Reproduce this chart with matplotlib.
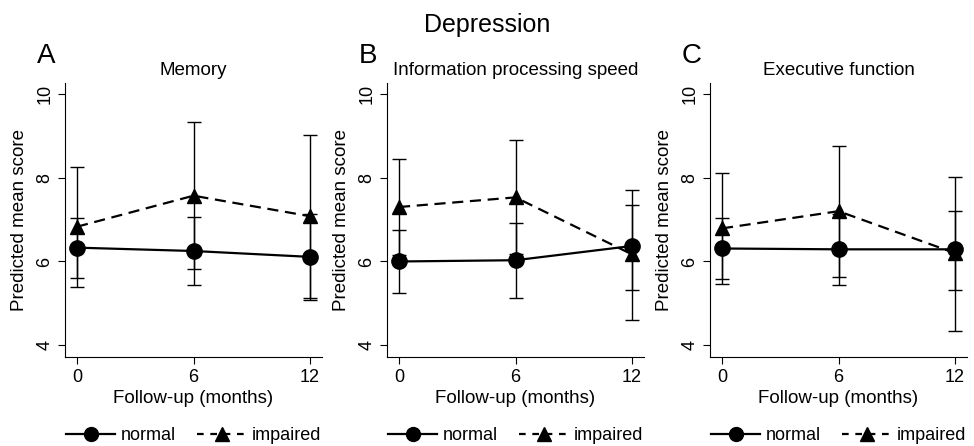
import matplotlib
matplotlib.use('Agg')
import matplotlib.pyplot as plt
from matplotlib.lines import Line2D

plt.rcParams['font.family'] = ['Liberation Sans', 'DejaVu Sans']

months = [0, 6, 12]
titles = ['Memory', 'Information processing speed', 'Executive function']
letters = ['A', 'B', 'C']

# predicted mean score and 95% CI, per domain
normal_mean = [[6.33, 6.25, 6.11], [6.00, 6.03, 6.37], [6.31, 6.29, 6.29]]
normal_lo = [[5.61, 5.43, 5.09], [5.24, 5.12, 5.33], [5.57, 5.45, 5.33]]
normal_hi = [[7.04, 7.07, 7.13], [6.76, 6.91, 7.35], [7.04, 7.13, 7.20]]

impaired_mean = [[6.83, 7.57, 7.08], [7.30, 7.53, 6.17], [6.79, 7.20, 6.20]]
impaired_lo = [[5.39, 5.81, 5.13], [6.15, 6.17, 4.60], [5.47, 5.63, 4.34]]
impaired_hi = [[8.25, 9.34, 9.02], [8.45, 8.89, 7.71], [8.11, 8.76, 8.02]]

fig = plt.figure(figsize=(9.74, 4.46), dpi=100)
lefts = [65, 387, 710]


def dibujar_panel(ax, i):
    for mean, lo, hi in [(impaired_mean[i], impaired_lo[i], impaired_hi[i]),
                         (normal_mean[i], normal_lo[i], normal_hi[i])]:
        err = [[m - l for m, l in zip(mean, lo)], [h - m for m, h in zip(mean, hi)]]
        ax.errorbar(months, mean, yerr=err, fmt='none', ecolor='black',
                    elinewidth=1.0, capsize=5, capthick=1.0, zorder=2)
    ax.plot(months, impaired_mean[i], color='black', lw=1.6, ls=(0, (5, 3)),
            marker='^', ms=10, zorder=3)
    ax.plot(months, normal_mean[i], color='black', lw=1.6, marker='o', ms=11, zorder=4)

    ax.set_xlim(-0.62, 12.62)
    ax.set_ylim(3.72, 10.26)
    ax.set_xticks(months)
    ax.set_yticks([4, 6, 8, 10])
    ax.spines['top'].set_visible(False)
    ax.spines['right'].set_visible(False)
    ax.tick_params(labelsize=13, length=5, width=0.8)
    for lab in ax.get_yticklabels():
        lab.set_rotation(90)
        lab.set_va('center')
    ax.set_xlabel('Follow-up (months)', fontsize=13.5, labelpad=3)
    ax.set_ylabel('Predicted mean score', fontsize=13.5, labelpad=6)
    ax.set_title(titles[i], fontsize=13.5, pad=6)

    handles = [Line2D([], [], color='black', lw=1.6, marker='o', ms=10),
               Line2D([], [], color='black', lw=1.6, ls=(0, (3, 3)), marker='^', ms=10)]
    centro_x = (lefts[i] + 128.5) / 974
    ax.legend(handles, ['normal', 'impaired'], loc='center',
              bbox_to_anchor=(centro_x, 1 - 436 / 446), bbox_transform=fig.transFigure,
              ncol=2, frameon=False, fontsize=13, borderpad=0.1,
              handlelength=2.7, handletextpad=0.3, columnspacing=1.2)


for i in range(3):
    ax = fig.add_axes([lefts[i] / 974, 89 / 446, 257 / 974, 274 / 446])
    dibujar_panel(ax, i)
    fig.text((lefts[i] - 28) / 974, 1 - 63 / 446, letters[i], fontsize=20, va='baseline')

fig.text(487 / 974, 1 - 25 / 446, 'Depression', fontsize=18, ha='center', va='center')

fig.savefig('out.png', dpi=100)
